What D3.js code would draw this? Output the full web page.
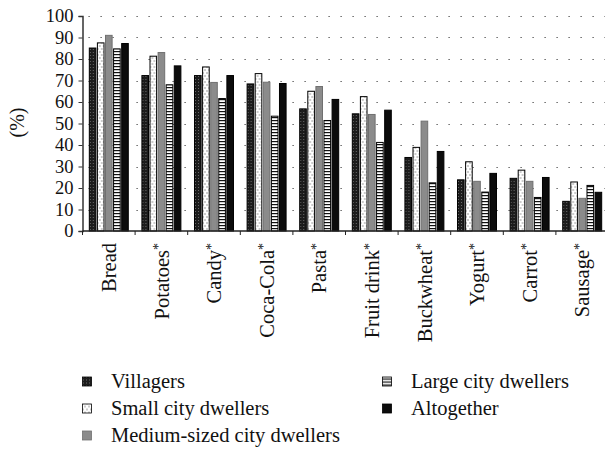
<!DOCTYPE html>
<html>
<head>
<meta charset="utf-8">
<script src="https://cdn.jsdelivr.net/npm/d3@7"></script>
<style>
  body { margin: 0; background: #fff; }
  svg { display: block; }
</style>
</head>
<body>
<svg id="chart" width="605" height="449"></svg>
<script>
const categories = ['Bread', 'Potatoes', 'Candy', 'Coca-Cola', 'Pasta', 'Fruit drink', 'Buckwheat', 'Yogurt', 'Carrot', 'Sausage'];
const starred = [false, true, true, true, true, true, true, true, true, true];
const seriesNames = ['Villagers', 'Small city dwellers', 'Medium-sized city dwellers', 'Large city dwellers', 'Altogether'];

const villagers = [85.1, 72.3, 72.3, 68.4, 56.8, 54.5, 34.2, 23.8, 24.5, 13.8];
const smallCity = [87.5, 81.3, 76.3, 73.2, 65.0, 62.5, 38.9, 32.2, 28.3, 22.8];
const mediumCity = [91.0, 83.0, 69.1, 69.2, 67.2, 54.2, 51.1, 23.1, 23.1, 15.2];
const largeCity = [84.7, 68.0, 61.6, 53.4, 51.4, 41.2, 22.4, 18.1, 15.6, 21.2];
const altogether = [87.2, 76.8, 72.3, 68.6, 61.2, 56.2, 37.0, 26.8, 24.9, 18.0];

const yTicks = [0, 10, 20, 30, 40, 50, 60, 70, 80, 90, 100];

const seriesValues = [villagers, smallCity, mediumCity, largeCity, altogether];
const data = categories.map((c, i) => ({
  category: c,
  values: seriesNames.map((s, j) => ({ series: s, value: seriesValues[j][i] })),
}));

const serif = "'Liberation Serif', 'DejaVu Serif', serif";
const svg = d3.select('#chart').style('font-family', serif);
const margin = { left: 82.5, top: 16, bottom: 218, right: -3.5 };
const width = 605;
const height = 449;
const plotBottom = height - margin.bottom; // 231

// patterns
const defs = svg.append('defs');
const pVill = defs.append('pattern').attr('id', 'p-vill')
  .attr('patternUnits', 'userSpaceOnUse').attr('width', 3).attr('height', 3);
pVill.append('rect').attr('width', 3).attr('height', 3).attr('fill', '#1c1c1c');
pVill.append('rect').attr('x', 1).attr('y', 1).attr('width', 1).attr('height', 1).attr('fill', '#6a6a6a');

const pSmall = defs.append('pattern').attr('id', 'p-small')
  .attr('patternUnits', 'userSpaceOnUse').attr('width', 4).attr('height', 6);
pSmall.append('rect').attr('width', 4).attr('height', 6).attr('fill', '#fff');
pSmall.append('rect').attr('x', 0.5).attr('y', 0.5).attr('width', 1).attr('height', 1).attr('fill', '#333');
pSmall.append('rect').attr('x', 2.5).attr('y', 3.5).attr('width', 1).attr('height', 1).attr('fill', '#333');

const pLarge = defs.append('pattern').attr('id', 'p-large')
  .attr('patternUnits', 'userSpaceOnUse').attr('width', 4).attr('height', 3);
pLarge.append('rect').attr('width', 4).attr('height', 3).attr('fill', '#fff');
pLarge.append('rect').attr('y', 0).attr('width', 4).attr('height', 1.2).attr('fill', '#111');

const fills = ['url(#p-vill)', 'url(#p-small)', '#8b8b8b', 'url(#p-large)', '#0c0c0c'];
const strokes = ['#000', '#000', '#707070', '#000', '#000'];
const fillScale = d3.scaleOrdinal().domain(seriesNames).range(fills);
const strokeScale = d3.scaleOrdinal().domain(seriesNames).range(strokes);

const x0 = d3.scaleBand()
  .domain(categories)
  .range([margin.left, width - margin.right])
  .paddingInner(0.24)
  .paddingOuter(0.12);

const x1 = d3.scaleBand()
  .domain(seriesNames)
  .range([0, x0.bandwidth()])
  .paddingInner(0.06);

const step = x0.step();

const yScale = d3.scaleLinear()
  .domain([0, 100])
  .range([plotBottom, margin.top]);

// dotted gridlines
svg.append('g')
  .selectAll('line')
  .data(yTicks.filter((d) => d > 0))
  .join('line')
  .attr('x1', margin.left + 6)
  .attr('x2', width)
  .attr('y1', (d) => Math.round(yScale(d)) + 0.5)
  .attr('y2', (d) => Math.round(yScale(d)) + 0.5)
  .attr('stroke', '#444')
  .attr('stroke-width', 1.2)
  .attr('stroke-dasharray', '1.2,10.8');

// bars
svg.append('g')
  .selectAll('g')
  .data(data)
  .join('g')
  .attr('transform', (d) => `translate(${x0(d.category)},0)`)
  .selectAll('rect')
  .data((d) => d.values)
  .join('rect')
  .attr('x', (d) => x1(d.series) + 0.5)
  .attr('y', (d) => yScale(d.value))
  .attr('width', x1.bandwidth() - 1)
  .attr('height', (d) => plotBottom - yScale(d.value))
  .attr('fill', (d) => fillScale(d.series))
  .attr('stroke', (d) => strokeScale(d.series))
  .attr('stroke-width', 1);

// y axis
const yAxis = d3.axisLeft(yScale)
  .tickValues(yTicks)
  .tickSize(4)
  .tickPadding(5);

const yG = svg.append('g')
  .attr('transform', `translate(${margin.left},0)`)
  .call(yAxis)
  .attr('font-family', serif)
  .attr('font-size', 18.5);
yG.select('.domain').attr('stroke', '#333').attr('stroke-width', 1.5);
yG.selectAll('.tick line').attr('stroke', '#333');
yG.selectAll('.tick text').attr('fill', '#111');

// x axis line and boundary ticks
svg.append('line')
  .attr('x1', margin.left)
  .attr('x2', width)
  .attr('y1', plotBottom)
  .attr('y2', plotBottom)
  .attr('stroke', '#222')
  .attr('stroke-width', 1.5);

svg.append('g')
  .selectAll('line')
  .data(categories)
  .join('line')
  .attr('x1', (d) => x0(d) - x0.paddingOuter() * step)
  .attr('x2', (d) => x0(d) - x0.paddingOuter() * step)
  .attr('y1', plotBottom)
  .attr('y2', plotBottom + 4)
  .attr('stroke', '#222');

// x labels
const xLabels = svg.append('g')
  .attr('font-family', serif)
  .attr('font-size', 20.5)
  .attr('fill', '#111')
  .selectAll('text')
  .data(categories)
  .join('text')
  .attr('transform', (d) => `translate(${x0(d) + x0.bandwidth() / 2},${plotBottom + 12}) rotate(-90)`)
  .attr('text-anchor', 'end')
  .attr('dy', '0.35em');
xLabels.append('tspan').text((d) => d);
xLabels.filter((d, i) => starred[i])
  .append('tspan')
  .attr('dy', '-0.38em')
  .attr('font-size', 14)
  .attr('fill', '#111')
  .text('*');

// y label
svg.append('text')
  .attr('transform', `translate(17,122.5) rotate(-90)`)
  .attr('text-anchor', 'middle')
  .attr('dy', '0.35em')
  .attr('font-family', serif)
  .attr('font-size', 20)
  .attr('fill', '#111')
  .text('(%)');

// legend
const legendPos = [
  { x: 82, y: 381.5 },
  { x: 82, y: 408.5 },
  { x: 82, y: 435.5 },
  { x: 382, y: 381.5 },
  { x: 382, y: 408.5 },
];
const legend = svg.append('g')
  .attr('font-family', serif)
  .attr('font-size', 20.5)
  .attr('fill', '#111')
  .selectAll('g')
  .data(seriesNames)
  .join('g')
  .attr('transform', (d, i) => `translate(${legendPos[i].x},${legendPos[i].y})`);
legend.append('rect')
  .attr('x', 0.5)
  .attr('y', -4.5)
  .attr('width', 9)
  .attr('height', 9)
  .attr('fill', (d) => fillScale(d))
  .attr('stroke', (d) => strokeScale(d))
  .attr('stroke-width', 0.8);
legend.append('text')
  .attr('x', 29)
  .attr('dy', '0.33em')
  .text((d) => d);
</script>
</body>
</html>
